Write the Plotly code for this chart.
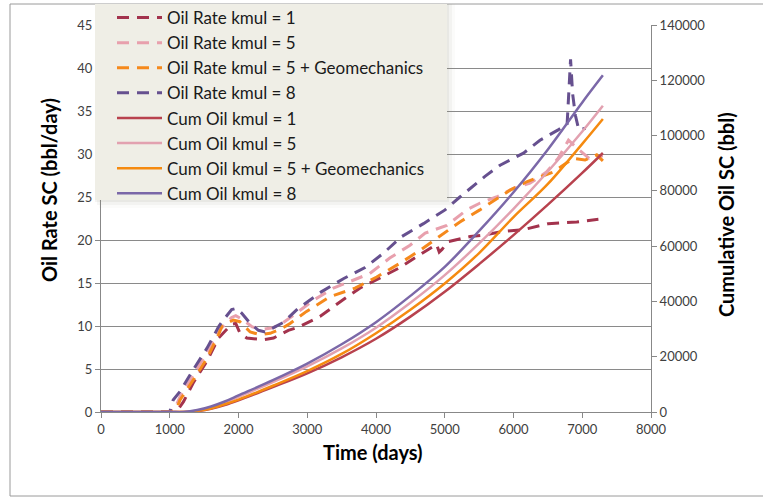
import plotly.graph_objects as go

# ---------------- data ----------------
# Oil rate (bbl/day), left axis
rate1_t = [0, 1000, 1120, 1200, 1350, 1540, 1710, 1900, 1960, 2020, 2120, 2360, 2510, 2725, 2850,
           3185, 3475, 3765, 4060, 4350, 4640, 4880, 4920, 4960, 5050, 5370, 5585, 5850, 6145,
           6505, 6920, 7235]
rate1_v = [0, 0, 0.3, 1.2, 3.5, 5.9, 8.6, 10.2, 10.3, 9.2, 8.6, 8.4, 8.6, 9.5, 9.8,
           11.1, 12.8, 14.4, 15.6, 16.8, 18.3, 19.5, 18.6, 18.9, 19.8, 20.4, 20.6, 21.0, 21.2,
           21.9, 22.1, 22.4]

rate5_t = [0, 1000, 1080, 1150, 1340, 1540, 1710, 1900, 1960, 2050, 2200, 2350, 2500, 2650, 2775,
           3090, 3380, 3670, 3910, 4200, 4495, 4715, 5030, 5320, 5515, 5750, 6000, 6240, 6480,
           6650, 6800, 6950, 7100, 7300]
rate5_v = [0, 0, 0.5, 1.8, 4.3, 6.9, 9.4, 11.0, 11.2, 10.8, 9.9, 9.6, 9.8, 10.4, 11.1,
           13.0, 14.4, 15.3, 16.1, 17.9, 19.4, 20.8, 21.7, 23.5, 24.3, 25.0, 26.0, 26.6, 27.9,
           29.5, 31.6, 30.5, 29.5, 29.8]

rate5g_t = [0, 1000, 1100, 1150, 1340, 1540, 1710, 1760, 1925, 2020, 2170, 2310, 2460, 2630, 2750,
            2990, 3330, 3695, 4010, 4350, 4640, 4930, 5220, 5510, 5710, 5950, 6200, 6580, 6870,
            7040, 7210, 7300]
rate5g_v = [0, 0, 0.4, 1.4, 3.7, 6.2, 9.0, 10.0, 10.7, 10.5, 9.3, 9.0, 9.15, 9.7, 10.3,
            11.7, 13.4, 14.4, 15.7, 17.3, 18.8, 20.4, 22.1, 23.5, 24.5, 25.8, 26.8, 27.9, 29.5,
            29.3, 29.9, 29.2]

rate8_t = [0, 1000, 1050, 1150, 1340, 1540, 1710, 1760, 1900, 1970, 2045, 2170, 2290, 2385, 2530,
           2650, 2870, 3210, 3525, 3840, 4105, 4375, 4690, 5005, 5220, 5490, 5585, 5805, 6145,
           6385, 6650, 6780, 6800, 6830, 6860, 6900, 6950, 7050]
rate8_v = [0, 0, 1.4, 2.4, 4.9, 7.4, 9.9, 10.5, 11.9, 12.05, 11.5, 10.3, 9.5, 9.3, 9.9,
           10.4, 12.05, 14.0, 15.5, 16.8, 18.45, 20.4, 21.9, 23.5, 25.0, 26.8, 27.4, 28.7, 30.1,
           31.6, 32.8, 33.5, 37.0, 41.0, 37.0, 34.5, 32.8, 33.0]

# Cumulative oil (bbl), right axis
cum_t = [0, 1000, 1200, 1400, 1600, 1800, 2000, 2500, 3000, 3500, 4000, 4500, 5000, 5500, 6000,
         6500, 7000, 7300]
cum1_v = [0, 0, 0, 300, 1200, 2500, 4200, 9000, 14000, 19800, 26500, 34500, 43500, 53500, 64000,
          75000, 86500, 93700]
cum5_v = [0, 0, 0, 500, 1600, 3300, 5500, 10800, 16500, 23000, 30500, 39500, 49500, 61000, 73500,
          87000, 101500, 110800]
cum5g_v = [0, 0, 0, 400, 1300, 2800, 4500, 9500, 14800, 21000, 28500, 37000, 46500, 57500, 70500,
           82500, 97000, 106000]
cum8_v = [0, 0, 0, 700, 2000, 3800, 6000, 11500, 17500, 24500, 32500, 42000, 52500, 65500, 79500,
          95000, 112000, 121800]

names_rate = ["Oil Rate kmul = 1", "Oil Rate kmul = 5", "Oil Rate kmul = 5 + Geomechanics",
              "Oil Rate kmul = 8"]
names_cum = ["Cum Oil kmul = 1", "Cum Oil kmul = 5", "Cum Oil kmul = 5 + Geomechanics",
             "Cum Oil kmul = 8"]

x_ticks = [0, 1000, 2000, 3000, 4000, 5000, 6000, 7000, 8000]

# ---------------- styles ----------------
dash_colors = ["#a3334d", "#e8a0ad", "#f5891c", "#66508f"]
solid_colors = ["#b8424e", "#e2a1b0", "#f58a10", "#7b68a8"]

fig = go.Figure()

rate_series = [(rate1_t, rate1_v), (rate5_t, rate5_v), (rate5g_t, rate5g_v), (rate8_t, rate8_v)]
for (t, v), name, col in zip(rate_series, names_rate, dash_colors):
    fig.add_trace(go.Scatter(x=t, y=v, name=name, mode="lines",
                             line=dict(color=col, width=3, dash="12px,8px"),
                             yaxis="y"))

cum_series = [cum1_v, cum5_v, cum5g_v, cum8_v]
for v, name, col in zip(cum_series, names_cum, solid_colors):
    fig.add_trace(go.Scatter(x=cum_t, y=v, name=name, mode="lines",
                             line=dict(color=col, width=2.5, shape="spline"),
                             yaxis="y2"))

L, R, T, B = 101, 112, 25, 89
W, H = 763, 501
pw, ph = W - L - R, H - T - B


def px(xp):
    return (xp - L) / pw


def py(yp):
    return (H - B - yp) / ph


tick_font = dict(family="Lato", size=13, color="#404040")
title_font = dict(family="Lato", size=20, color="#000000")

shapes = [dict(type="rect", xref="paper", yref="paper",
               x0=px(10), x1=px(775), y0=py(496), y1=py(4),
               line=dict(color="#9a9a9a", width=1), layer="below")]
# legend shadow (soft)
for i, op in enumerate([0.10, 0.07, 0.04]):
    shapes.append(dict(type="rect", xref="paper", yref="paper",
                       x0=px(95 + 2 * i), x1=px(449 + 3 * i), y0=py(202 + 3 * i), y1=py(4),
                       fillcolor="#909080", opacity=op, line=dict(width=0), layer="above"))
shapes.append(dict(type="rect", xref="paper", yref="paper",
                   x0=px(95), x1=px(447), y0=py(200), y1=py(4),
                   fillcolor="#efeee6", line=dict(width=0), layer="above"))

fig.update_layout(
    width=W, height=H,
    margin=dict(l=L, r=R, t=T, b=B, autoexpand=False),
    paper_bgcolor="white", plot_bgcolor="white",
    showlegend=True,
    legend=dict(x=px(112), y=py(0), xanchor="left", yanchor="top",
                bgcolor="rgba(0,0,0,0)", borderwidth=0,
                font=dict(family="Lato", size=17, color="#1a1a1a"),
                itemwidth=45, tracegroupgap=0),
    xaxis=dict(range=[0, 8000], tickvals=x_ticks, showgrid=False,
               showline=True, linecolor="#888888", linewidth=1,
               ticks="outside", ticklen=5, tickcolor="#888888",
               tickfont=tick_font, zeroline=False),
    yaxis=dict(range=[0, 45], dtick=5, showgrid=True, gridcolor="#8a8a8a", gridwidth=1,
               showline=True, linecolor="#888888", linewidth=1,
               ticks="outside", ticklen=5, tickcolor="#888888",
               tickfont=tick_font, zeroline=False),
    yaxis2=dict(range=[0, 140000], dtick=20000, overlaying="y", side="right",
                showgrid=False, showline=True, linecolor="#888888", linewidth=1,
                ticks="outside", ticklen=5, tickcolor="#888888",
                tickfont=tick_font, zeroline=False, tickformat="d"),
    shapes=shapes,
    annotations=[
        dict(text="<b>Oil Rate SC (bbl/day)</b>", xref="paper", yref="paper",
             x=px(35), y=py(190), textangle=-90, showarrow=False, font=title_font),
        dict(text="<b>Cumulative Oil SC (bbl)</b>", xref="paper", yref="paper",
             x=px(740), y=py(215), textangle=-90, showarrow=False, font=title_font),
        dict(text="<b>Time (days)</b>", xref="paper", yref="paper",
             x=px(373), y=py(466), showarrow=False, font=title_font),
    ],
)

fig.write_html("out.html")
